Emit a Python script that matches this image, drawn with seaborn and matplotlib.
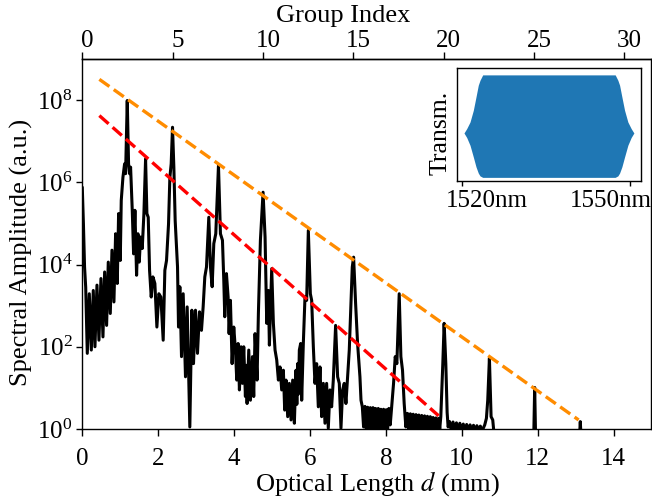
import numpy as np
import pandas as pd
import matplotlib
matplotlib.use("Agg")
import matplotlib.pyplot as plt
from matplotlib.ticker import NullLocator
from matplotlib.transforms import ScaledTranslation
import seaborn as sns

# Fourier spectrum of the transmission: optical length (mm) and log10 of the amplitude
optical_length_mm = [
    0.00, 0.03, 0.06, 0.09, 0.132, 0.185, 0.238, 0.290, 0.334, 0.387, 0.439, 0.492,
    0.545, 0.589, 0.641, 0.685, 0.738, 0.782, 0.834, 0.878, 0.922, 0.957, 1.001, 1.027,
    1.071, 1.115, 1.141, 1.185, 1.220, 1.247, 1.273, 1.317, 1.352, 1.387, 1.431, 1.466,
    1.501, 1.536, 1.580, 1.624, 1.668, 1.703, 1.738, 1.773, 1.817, 1.861, 1.913, 1.966,
    2.018, 2.071, 2.132,
    2.176, 2.220, 2.273, 2.308, 2.343, 2.378, 2.413, 2.448, 2.483, 2.510, 2.536, 2.571,
    2.615, 2.659, 2.720, 2.764, 2.834, 2.887, 2.931, 2.983, 3.036, 3.089,
    3.141, 3.185, 3.229, 3.273, 3.334, 3.378, 3.422, 3.466, 3.518, 3.589, 3.641, 3.694,
    3.729, 3.755, 3.799, 3.843, 3.869, 3.904, 3.948, 3.992, 4.036, 4.071,
    4.106, 4.141, 4.185, 4.220, 4.255, 4.299, 4.321, 4.343, 4.387, 4.431, 4.484, 4.518,
    4.553, 4.606, 4.641, 4.694, 4.764, 4.817, 4.861, 4.904, 4.931, 4.992, 5.036,
    5.080, 5.124, 5.168, 5.211, 5.255, 5.299, 5.334, 5.369, 5.413, 5.457, 5.501, 5.545,
    5.589, 5.632, 5.654, 5.676, 5.698, 5.720, 5.755, 5.782, 5.825, 5.869, 5.913, 5.957,
    6.010, 6.045,
    6.089, 6.132, 6.176, 6.220, 6.264, 6.308, 6.352, 6.396, 6.439, 6.483, 6.527, 6.571,
    6.615, 6.676, 6.729, 6.773, 6.817, 6.861, 6.904, 6.948, 6.992, 7.036,
    7.080, 7.115, 7.150, 7.203, 7.255, 7.317, 7.345, 7.380, 7.413, 7.450, 7.485, 7.520,
    7.555, 7.590, 7.625, 7.660, 7.695, 7.730, 7.765, 7.800, 7.835, 7.870, 7.905, 7.940,
    7.975, 8.010, 8.045, 8.080, 8.115,
    8.159, 8.203, 8.247, 8.290, 8.352, 8.396, 8.439, 8.483, 8.527, 8.570, 8.607, 8.645,
    8.682, 8.720, 8.757, 8.795, 8.832, 8.870, 8.907, 8.945, 8.982, 9.020, 9.057, 9.095,
    9.132, 9.170, 9.207, 9.245, 9.282, 9.320, 9.357, 9.395, 9.420,
    9.448, 9.501, 9.536, 9.580, 9.615, 9.641, 9.680, 9.725, 9.770, 9.815, 9.860, 9.905,
    9.950, 9.995, 10.040, 10.085, 10.130, 10.175, 10.220, 10.265, 10.310, 10.355, 10.400,
    10.445, 10.490, 10.535,
    10.606, 10.650, 10.685, 10.729, 10.773, 10.817, 10.869, 11.500, 11.895, 11.922,
    11.948, 12.600, 13.097, 13.124, 13.150, 14.000, 15.000,
]
log10_amplitude = [
    5.88, 4.99, 3.94, 3.45, 1.84, 3.29, 1.92, 3.37, 2.00, 3.50, 2.16, 3.66,
    2.24, 3.82, 2.52, 4.06, 2.81, 4.35, 3.09, 4.75, 3.54, 5.24, 4.10, 5.56,
    6.12, 6.45, 6.21, 7.99, 6.45, 6.21, 6.37, 5.32, 4.26, 5.32, 3.74, 4.75,
    4.06, 4.67, 4.39, 5.24, 6.57, 5.24, 5.15, 3.86, 3.21, 3.70, 3.54, 2.48,
    3.29, 3.21, 2.16,
    3.86, 4.10, 4.99, 6.12, 6.45, 7.34, 6.37, 5.07, 4.43, 3.94, 2.48, 3.46,
    1.76, 3.29, 1.27, 2.97, 0.05, 2.89, 1.59, 2.89, 1.84, 2.85,
    2.40, 2.97, 3.70, 3.94, 5.15, 3.94, 3.46, 4.51, 4.75, 6.41, 4.75, 4.59,
    3.62, 2.73, 3.78, 3.21, 2.32, 3.13, 1.59, 2.48, 1.92, 1.19,
    2.08, 0.95, 2.00, 1.11, 2.00, 0.79, 1.55, 0.62, 1.92, 0.70, 1.76, 0.79,
    2.32, 1.19, 2.81, 4.59, 5.76, 4.67, 2.57, 3.37, 2.04, 3.90, 2.57,
    1.92, 1.68, 1.19, 1.51, 0.95, 1.43, 0.46, 1.19, 0.30, 1.11, 0.22, 1.19,
    0.14, 1.43, 0.60, 1.59, 0.85, 1.92, 2.08, 0.70, 2.08, 3.21, 3.13, 4.83,
    3.29, 3.13,
    2.00, 1.11, 1.59, 0.54, 1.51, 0.30, 1.11, 0.14, 1.11, 0.02, 0.95, 0.54,
    1.19, 2.52, 1.27, 1.11, 0.02, 0.95, 1.11, 0.62, 1.27, 1.92,
    3.05, 3.94, 4.18, 3.05, 2.08, 1.27, 0.70, 0.54, 0.05, 0.55, -0.05, 0.53,
    -0.05, 0.52, -0.05, 0.52, -0.05, 0.50, -0.05, 0.50, -0.05, 0.48, -0.05, 0.48,
    -0.05, 0.47, -0.05, 0.50, 0.10,
    0.62, 1.11, 1.76, 1.59, 3.29, 1.76, 1.43, 0.62, 0.05, 0.38, -0.05, 0.37,
    -0.05, 0.36, -0.05, 0.35, -0.05, 0.34, -0.05, 0.33, -0.05, 0.32, -0.05, 0.31,
    -0.05, 0.30, -0.05, 0.28, -0.05, 0.27, -0.05, 0.26, 0.00,
    0.30, 1.59, 2.57, 1.59, 0.40, 0.05, 0.18, -0.05, 0.17, -0.05, 0.15, -0.05,
    0.14, -0.05, 0.12, -0.05, 0.11, -0.05, 0.10, -0.05, 0.09, -0.05, 0.08,
    -0.05, 0.07, -0.05,
    0.10, 0.26, 0.70, 1.72, 0.30, 0.22, -0.30, -0.50, -0.30, 1.01,
    -0.30, -0.50, -0.30, 0.18, -0.30, -0.50, -0.50,
]

# exponential decay guides through the two families of peaks
upper_guide_mm = [0.45, 13.08]
upper_guide_amp = [3.2e8, 1.66]
lower_guide_mm = [0.45, 9.39]
lower_guide_amp = [4.2e7, 2.1]

# inset: envelope of the transmission fringes
wavelength_nm = [1520.30, 1520.79, 1521.38, 1521.97, 1522.45, 1522.86, 1523.17, 1523.65,
                 1547.37, 1547.85, 1548.16, 1548.57, 1549.05, 1549.64, 1550.23, 1550.72]
transm_upper = [0.423, 0.462, 0.520, 0.623, 0.741, 0.844, 0.888, 0.935,
                0.935, 0.888, 0.844, 0.741, 0.623, 0.520, 0.462, 0.423]
transm_lower = [0.423, 0.383, 0.315, 0.212, 0.125, 0.070, 0.045, 0.032,
                0.032, 0.045, 0.070, 0.125, 0.212, 0.315, 0.383, 0.423]

length_ticks = [0, 2, 4, 6, 8, 10, 12, 14]
group_ticks = [0, 5, 10, 15, 20, 25, 30]
amp_ticks = [1e0, 1e2, 1e4, 1e6, 1e8]
inset_ticks = [1520, 1550]
inset_tick_labels = ["1520nm", "1550nm"]
mm_per_group = 1 / 2.1

sns.set_style("ticks")
plt.rcParams.update({
    "font.family": ["Liberation Serif", "DejaVu Serif"],
    "mathtext.fontset": "stix",
    "font.size": 18,
    "axes.linewidth": 1.0,
    "axes.edgecolor": "black",
    "axes.labelcolor": "black",
    "text.color": "black",
    "xtick.color": "black",
    "ytick.color": "black",
    "xtick.direction": "out",
    "ytick.direction": "out",
})

fig = plt.figure(figsize=(6.52, 5.0), dpi=100)
ax = fig.add_axes([0.1262, 0.142, 0.873, 0.74])
ax.set_yscale("log")

spectrum = pd.DataFrame({"d": optical_length_mm,
                         "amp": np.power(10.0, log10_amplitude)})
sns.lineplot(data=spectrum, x="d", y="amp", ax=ax, estimator=None, sort=False,
             color="black", linewidth=2.2)
ax.plot(upper_guide_mm, upper_guide_amp, ls="--", color="darkorange", lw=2.4)
ax.plot(lower_guide_mm, lower_guide_amp, ls="--", color="red", lw=2.4)

ax.set_xlim(0, 15)
ax.set_ylim(1, 1e9)
ax.set_xticks(length_ticks)
ax.set_yticks(amp_ticks)
ax.yaxis.set_minor_locator(NullLocator())
ax.tick_params(axis="x", length=5, width=1, pad=9, labelsize=18)
ax.tick_params(axis="y", length=4, width=1, pad=3, labelsize=18)
ax.set_xlabel("Optical Length $d$ (mm)", fontsize=19)
ax.set_ylabel("Spectral Amplitude (a.u.)", fontsize=19)
ax.xaxis.set_label_coords(0.518, -0.108)
ax.yaxis.set_label_coords(-0.087, 0.478)

top = ax.secondary_xaxis("top", functions=(lambda d: d / mm_per_group,
                                           lambda g: g * mm_per_group))
top.set_xticks(group_ticks)
top.tick_params(axis="x", length=4.7, width=1, pad=0, labelsize=18)
top.set_xlabel("Group Index", fontsize=19)
top.xaxis.set_label_coords(0.458, 1.100, transform=ax.transAxes)
for lab in top.get_xticklabels():
    lab.set_transform(lab.get_transform() + ScaledTranslation(0.05, 0, fig.dpi_scale_trans))

ax_in = fig.add_axes([0.7005, 0.638, 0.2827, 0.227])
ax_in.fill_between(wavelength_nm, transm_lower, transm_upper, color="#1f77b4", lw=0)
ax_in.set_xlim(1519, 1552)
ax_in.set_ylim(0, 1)
ax_in.set_xticks(inset_ticks)
ax_in.set_xticklabels(inset_tick_labels)
ax_in.set_yticks([])
ax_in.tick_params(axis="x", length=3.5, width=1, pad=3, labelsize=18)
ax_in.set_ylabel("Transm.", fontsize=18.5)
ax_in.yaxis.set_label_coords(-0.028, 0.427)
for lab, dx in zip(ax_in.get_xticklabels(), [0.244, -0.193]):
    lab.set_transform(lab.get_transform() + ScaledTranslation(dx, 0, fig.dpi_scale_trans))

fig.savefig("out.png", dpi=100)
